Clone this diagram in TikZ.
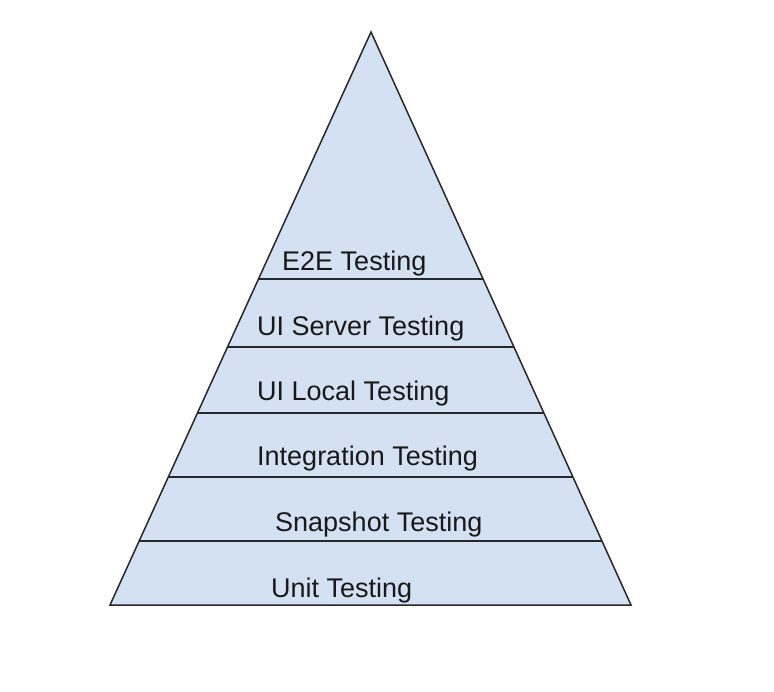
\documentclass[tikz,border=0pt]{standalone}
\usepackage{fontspec}
\setmainfont{Liberation Sans}
\usetikzlibrary{calc}
\definecolor{layerfill}{RGB}{212,225,242}
\definecolor{edgegrey}{RGB}{40,40,40}
\definecolor{labelgrey}{RGB}{25,25,25}
\tikzset{
  layerline/.style={draw=edgegrey,line width=1.5pt},
  layerlabel/.style={anchor=base west,inner sep=0pt,text=labelgrey,font=\fontsize{27}{31}\selectfont}
}
\begin{document}
\begin{tikzpicture}[x=1pt,y=-1pt]
\useasboundingbox (0,0) rectangle (774,692);
% outline of the pyramid
\coordinate (apex) at (371,32);
\coordinate (bl) at (110,605);
\coordinate (br) at (631,605);
\draw[layerline,fill=layerfill,line join=miter] (apex) -- (br) -- (bl) -- cycle;
% layer borders
\foreach \lev in {279,347,413,477,541}
  \draw[layerline] ($(apex)!{(\lev-32)/573}!(bl)$) -- ($(apex)!{(\lev-32)/573}!(br)$);
% layer names
\node[layerlabel] (e2e) at (282,271) {E2E Testing};
\node[layerlabel] (uiserver) at (257,336) {UI Server Testing};
\node[layerlabel] (uilocal) at (257,401) {UI Local Testing};
\node[layerlabel] (integration) at (257,466) {Integration Testing};
\node[layerlabel] (snapshot) at (275,531) {Snapshot Testing};
\node[layerlabel] (unit) at (271,597) {Unit Testing};
\end{tikzpicture}
\end{document}
